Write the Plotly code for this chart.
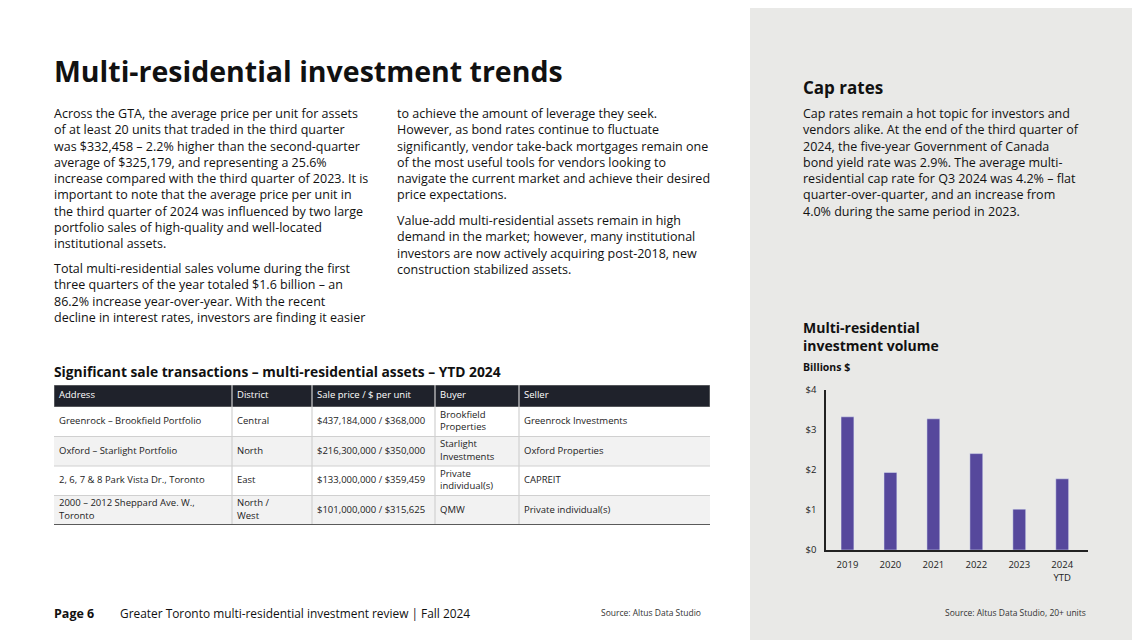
import plotly.graph_objects as go

# investment volume, billions $
years = ["2019", "2020", "2021", "2022", "2023", "2024<br>YTD"]
volume = [3.33, 1.94, 3.28, 2.41, 1.02, 1.78]
y_ticks = [0, 1, 2, 3, 4]
y_tick_labels = ["$0", "$1", "$2", "$3", "$4"]

# significant sale transactions table
table_header = ["Address", "District", "Sale price / $ per unit", "Buyer", "Seller"]
addresses = ["Greenrock – Brookfield Portfolio", "Oxford – Starlight Portfolio",
             "2, 6, 7 & 8 Park Vista Dr., Toronto", "2000 – 2012 Sheppard Ave. W.,<br>Toronto"]
districts = ["Central", "North", "East", "North /<br>West"]
prices = ["$437,184,000 / $368,000", "$216,300,000 / $350,000",
          "$133,000,000 / $359,459", "$101,000,000 / $315,625"]
buyers = ["Brookfield<br>Properties", "Starlight<br>Investments", "Private<br>individual(s)", "QMW"]
sellers = ["Greenrock Investments", "Oxford Properties", "CAPREIT", "Private individual(s)"]

W, H = 1140, 640
OX, OY = 8, 8  # page offset of the plot div
FONT = "Open Sans"
DARK = "#1f222b"
PURPLE = "#56489c"
PANEL = "#e9e9e7"
TEXT = "#111111"
GRID = "#d0d0d0"

# table geometry (pixels)
COL_W = [178, 80, 123, 84, 191]
HEAD_H = 22
ROW_H = 29.5


def px(x):
    return (x - OX) / W


def py(y):
    return 1 - (y - OY) / H


para1 = ("Across the GTA, the average price per unit for assets<br>"
         "of at least 20 units that traded in the third quarter<br>"
         "was $332,458 – 2.2% higher than the second-quarter<br>"
         "average of $325,179, and representing a 25.6%<br>"
         "increase compared with the third quarter of 2023. It is<br>"
         "important to note that the average price per unit in<br>"
         "the third quarter of 2024 was influenced by two large<br>"
         "portfolio sales of high-quality and well-located<br>"
         "institutional assets.")
para2 = ("Total multi-residential sales volume during the first<br>"
         "three quarters of the year totaled $1.6 billion – an<br>"
         "86.2% increase year-over-year. With the recent<br>"
         "decline in interest rates, investors are finding it easier")
para3 = ("to achieve the amount of leverage they seek.<br>"
         "However, as bond rates continue to fluctuate<br>"
         "significantly, vendor take-back mortgages remain one<br>"
         "of the most useful tools for vendors looking to<br>"
         "navigate the current market and achieve their desired<br>"
         "price expectations.")
para4 = ("Value-add multi-residential assets remain in high<br>"
         "demand in the market; however, many institutional<br>"
         "investors are now actively acquiring post-2018, new<br>"
         "construction stabilized assets.")
para5 = ("Cap rates remain a hot topic for investors and<br>"
         "vendors alike. At the end of the third quarter of<br>"
         "2024, the five-year Government of Canada<br>"
         "bond yield rate was 2.9%. The average multi-<br>"
         "residential cap rate for Q3 2024 was 4.2% – flat<br>"
         "quarter-over-quarter, and an increase from<br>"
         "4.0% during the same period in 2023.")

fig = go.Figure()

fig.add_trace(go.Bar(
    x=years, y=volume,
    marker_color=PURPLE, width=0.3,
    hoverinfo="skip",
))

# ---- table drawn on its own axes (x in px across, y in px down)
columns = [addresses, districts, prices, buyers, sellers]
n_rows = len(addresses)
col_left = [sum(COL_W[:i]) for i in range(len(COL_W))]
table_w = sum(COL_W)
table_h = HEAD_H + ROW_H * n_rows
row_mid = [HEAD_H + ROW_H * (i + 0.5) for i in range(n_rows)]

fig.add_trace(go.Scatter(
    x=[c + 5 for c in col_left], y=[HEAD_H / 2] * len(table_header),
    text=table_header, mode="text", textposition="middle right",
    textfont=dict(family=FONT, size=9.5, color="white"),
    xaxis="x2", yaxis="y2", hoverinfo="skip", cliponaxis=False,
))
for left, values in zip(col_left, columns):
    fig.add_trace(go.Scatter(
        x=[left + 5] * n_rows, y=row_mid,
        text=values, mode="text", textposition="middle right",
        textfont=dict(family=FONT, size=9.5, color="#222222"),
        xaxis="x2", yaxis="y2", hoverinfo="skip", cliponaxis=False,
    ))

# header band and row backgrounds
fig.add_shape(type="rect", xref="x2", yref="y2", layer="below",
              x0=0, x1=table_w, y0=0, y1=HEAD_H, fillcolor=DARK,
              line=dict(color="#8a8a8a", width=1))
for i in range(n_rows):
    top = HEAD_H + ROW_H * i
    fig.add_shape(type="rect", xref="x2", yref="y2", layer="below",
                  x0=0, x1=table_w, y0=top, y1=top + ROW_H,
                  fillcolor="white" if i % 2 == 0 else "#f2f2f2", line_width=0)
    if i > 0:
        fig.add_shape(type="line", xref="x2", yref="y2", layer="below",
                      x0=0, x1=table_w, y0=top, y1=top,
                      line=dict(color=GRID, width=1.2))
for left in col_left[1:]:
    fig.add_shape(type="line", xref="x2", yref="y2", layer="below",
                  x0=left, x1=left, y0=0, y1=table_h,
                  line=dict(color=GRID, width=1.2))
fig.add_shape(type="line", xref="x2", yref="y2",
              x0=0, x1=table_w, y0=table_h, y1=table_h,
              line=dict(color="#5a5a5a", width=2))

fig.update_layout(
    width=W, height=H,
    margin=dict(l=0, r=0, t=0, b=0, autoexpand=False),
    paper_bgcolor="white", plot_bgcolor="rgba(0,0,0,0)",
    showlegend=False,
    font=dict(family=FONT, color=TEXT),
    xaxis=dict(
        domain=[px(826), px(1088)], range=[-0.5, 5.6],
        showline=True, linecolor="#222222", linewidth=1.5,
        ticks="", showgrid=False, fixedrange=True, ticklabelstandoff=5,
        tickfont=dict(size=9.5, color="#222222"),
    ),
    yaxis=dict(
        domain=[py(550), py(390)], range=[0, 4],
        tickvals=y_ticks, ticktext=y_tick_labels,
        showline=True, linecolor="#222222", linewidth=1.5,
        ticks="", showgrid=False, zeroline=False, fixedrange=True,
        ticklabelstandoff=6,
        tickfont=dict(size=9.5, color="#222222"),
    ),
    xaxis2=dict(domain=[px(54), px(710)], range=[0, table_w], visible=False,
                fixedrange=True, anchor="y2"),
    yaxis2=dict(domain=[py(385 + table_h), py(385)], range=[table_h, 0], visible=False,
                fixedrange=True, anchor="x2"),
)

# grey side panel behind the chart
fig.add_shape(type="rect", xref="paper", yref="paper", layer="below",
              x0=px(750), x1=1.02, y0=-0.02, y1=1.02, fillcolor=PANEL, line_width=0)


def note(text, x, y, size, bold=False, color=TEXT):
    if bold:
        text = f"<b>{text}</b>"
    fig.add_annotation(text=text, x=px(x), y=py(y), xref="paper", yref="paper",
                       xanchor="left", yanchor="top", align="left", showarrow=False,
                       font=dict(family=FONT, size=size, color=color))


note("Multi-residential investment trends", 52, 50, 28.5, bold=True)
note(para1, 52, 103, 12.5)
note(para2, 52, 258, 12.5)
note(para3, 395, 103, 12.5)
note(para4, 395, 210, 12.5)
note("Cap rates", 801, 74, 17, bold=True)
note(para5, 801, 103, 12.5)
note("Significant sale transactions – multi-residential assets – YTD 2024", 52, 360, 13.8, bold=True)
note("Multi-residential<br>investment volume", 801, 316, 14, bold=True)
note("Billions $", 801, 358, 10.5, bold=True)
note("Page 6", 52, 603, 12.5, bold=True)
note("Greater Toronto multi-residential investment review | Fall 2024", 118, 603, 11.9)
note("Source: Altus Data Studio", 599, 605, 8.5, color="#333333")
note("Source: Altus Data Studio, 20+ units", 943, 605, 8.5, color="#333333")

fig.write_html("out.html")
